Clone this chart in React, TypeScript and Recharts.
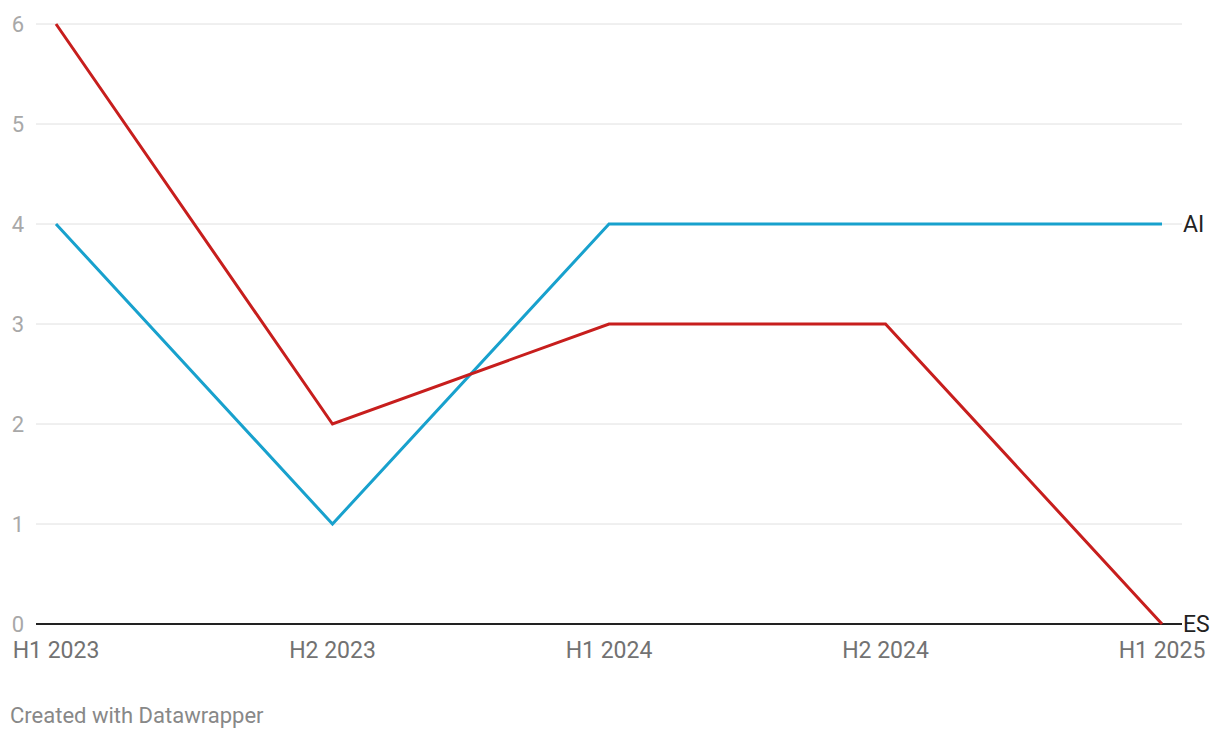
import React from 'react';
import { LineChart, Line, XAxis, YAxis, CartesianGrid, ReferenceLine } from 'recharts';

const periods = ['H1 2023', 'H2 2023', 'H1 2024', 'H2 2024', 'H1 2025'];
const aiValues = [4, 1, 4, 4, 4];
const esValues = [6, 2, 3, 3, 0];
const yTicks = [0, 1, 2, 3, 4, 5, 6];

const data = periods.map((p, i) => ({ period: p, AI: aiValues[i], ES: esValues[i] }));

const FONT = 'Roboto, "Noto Sans", sans-serif';

const YTick = ({ y, payload }: any) => (
  <text x={24} y={y} dy={8} textAnchor="end" fontSize={22} fill="#a8a8a8" fontFamily={FONT}>
    {payload.value}
  </text>
);

const XTick = ({ x, y, payload }: any) => (
  <text x={x} y={y} dy={26} textAnchor="middle" fontSize={23} fill="#727272" fontFamily={FONT}>
    {payload.value}
  </text>
);

const endLabel = (name: string) => (props: any) => {
  const { x, y, index } = props;
  if (index !== periods.length - 1) return null;
  return (
    <text x={x + 21} y={y} dy={8} fontSize={23} fill="#222" fontFamily={FONT}>
      {name}
    </text>
  );
};

export default function App() {
  return (
    <div style={{ position: 'absolute', left: 0, top: 0, width: 1220, height: 740, background: '#fff' }}>
      <LineChart width={1220} height={680} data={data} margin={{ top: 24, right: 38, bottom: 16, left: 0 }}>
        <CartesianGrid vertical={false} stroke="#e0e0e0" strokeWidth={1} />
        <XAxis
          dataKey="period"
          axisLine={false}
          tickLine={false}
          tick={<XTick />}
          height={40}
          padding={{ left: 20, right: 20 }}
          interval={0}
        />
        <YAxis
          domain={[0, 6]}
          ticks={yTicks}
          axisLine={false}
          tickLine={false}
          tick={<YTick />}
          width={36}
        />
        <ReferenceLine y={0} stroke="#222" strokeWidth={2} />
        <Line
          type="linear"
          dataKey="AI"
          stroke="#18a1cd"
          strokeWidth={3}
          dot={false}
          isAnimationActive={false}
          label={endLabel('AI')}
        />
        <Line
          type="linear"
          dataKey="ES"
          stroke="#c71e1d"
          strokeWidth={3}
          dot={false}
          isAnimationActive={false}
          label={endLabel('ES')}
        />
      </LineChart>
      <div
        style={{
          position: 'absolute',
          left: 10,
          top: 703,
          fontFamily: FONT,
          fontSize: 22,
          color: '#888',
          whiteSpace: 'nowrap',
        }}
      >
        Created with Datawrapper
      </div>
    </div>
  );
}
